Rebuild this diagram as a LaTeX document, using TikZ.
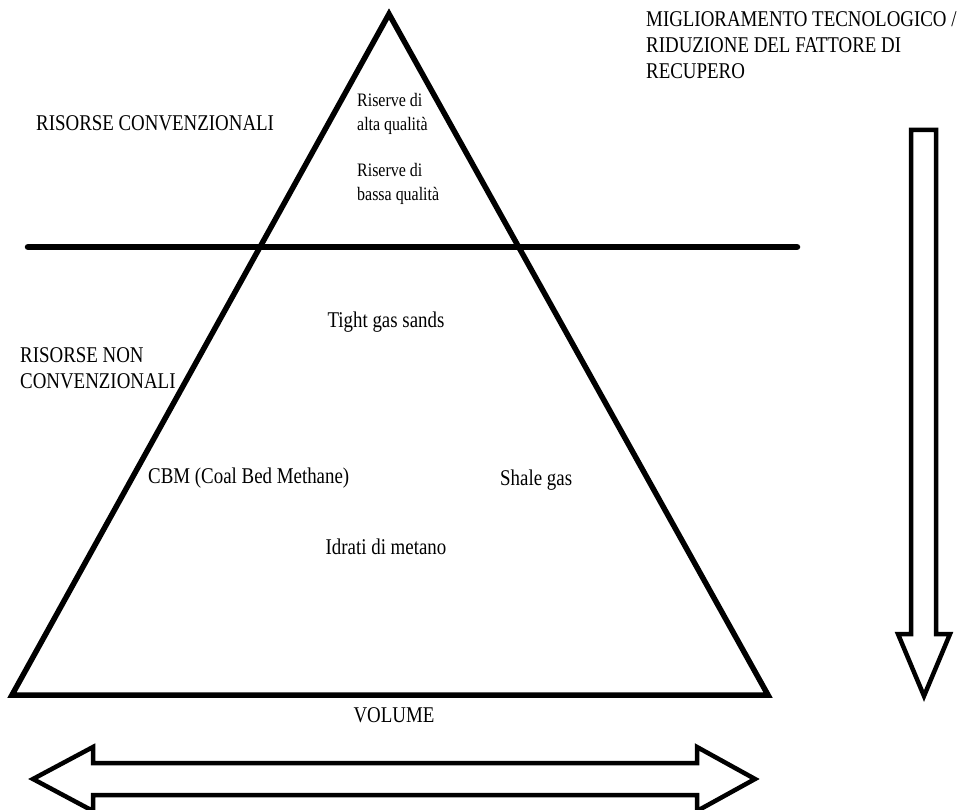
\documentclass[tikz,border=0pt]{standalone}
\usepackage{fontspec}
\setmainfont[FakeStretch=0.84]{Liberation Serif}
\usetikzlibrary{positioning}

\begin{document}
\begin{tikzpicture}[x=1pt, y=-1pt]
            \tikzstyle{big} = [inner sep=0pt, anchor=base west,
                font=\fontsize{22.5}{26}\selectfont]
            \tikzstyle{small} = [inner sep=0pt, anchor=base west,
                font=\fontsize{19}{19}\selectfont]
            \tikzstyle{edge} = [draw, line width=5.5pt, line join=miter]
            \tikzstyle{blockarrow} = [draw, line width=4.5pt, line join=miter, miter limit=10]

            \useasboundingbox (0,0) rectangle (961,810);

            % pyramid and the separating line
            \coordinate (apex) at (389,14);
            \coordinate (baseL) at (12,695);
            \coordinate (baseR) at (768,695);
            \coordinate (sepL) at (28,247);
            \coordinate (sepR) at (797,247);
            \path [edge] (apex) -- (baseR) -- (baseL) -- cycle;
            \path [draw, line width=6.5pt, line cap=round] (sepL) -- (sepR);

            % labels inside the pyramid
            \node [small] (alta1) at (357,107) {Riserve di};
            \node [small] (alta2) at (357,131) {alta qualità};
            \node [small] (bassa1) at (357,177) {Riserve di};
            \node [small] (bassa2) at (357,201) {bassa qualità};
            \node [big, anchor=base] (tight) at (386,327) {Tight gas sands};
            \node [big] (cbm) at (148,483) {CBM (Coal Bed Methane)};
            \node [big] (shale) at (500,485) {Shale gas};
            \node [big, anchor=base] (idrati) at (386,554) {Idrati di metano};

            % labels outside
            \node [big] (conv) at (36,131) {RISORSE CONVENZIONALI};
            \node [big] (nonconv1) at (20,362) {RISORSE NON};
            \node [big] (nonconv2) at (20,388) {CONVENZIONALI};
            \node [big] (migl1) at (646,27) {MIGLIORAMENTO TECNOLOGICO /};
            \node [big] (migl2) at (646,53) {RIDUZIONE DEL FATTORE DI};
            \node [big] (migl3) at (646,79) {RECUPERO};
            \node [big, anchor=base] (volume) at (394,722) {VOLUME};

            % block arrows
            \path [blockarrow] (911,130) -- (936,130) -- (936,634) -- (950,634)
                -- (924,696) -- (898,634) -- (911,634) -- cycle;
            \path [blockarrow] (33,779) -- (93,747) -- (93,763) -- (697,763)
                -- (697,747) -- (755,779) -- (697,811) -- (697,795)
                -- (93,795) -- (93,811) -- cycle;
        \end{tikzpicture}
\end{document}
